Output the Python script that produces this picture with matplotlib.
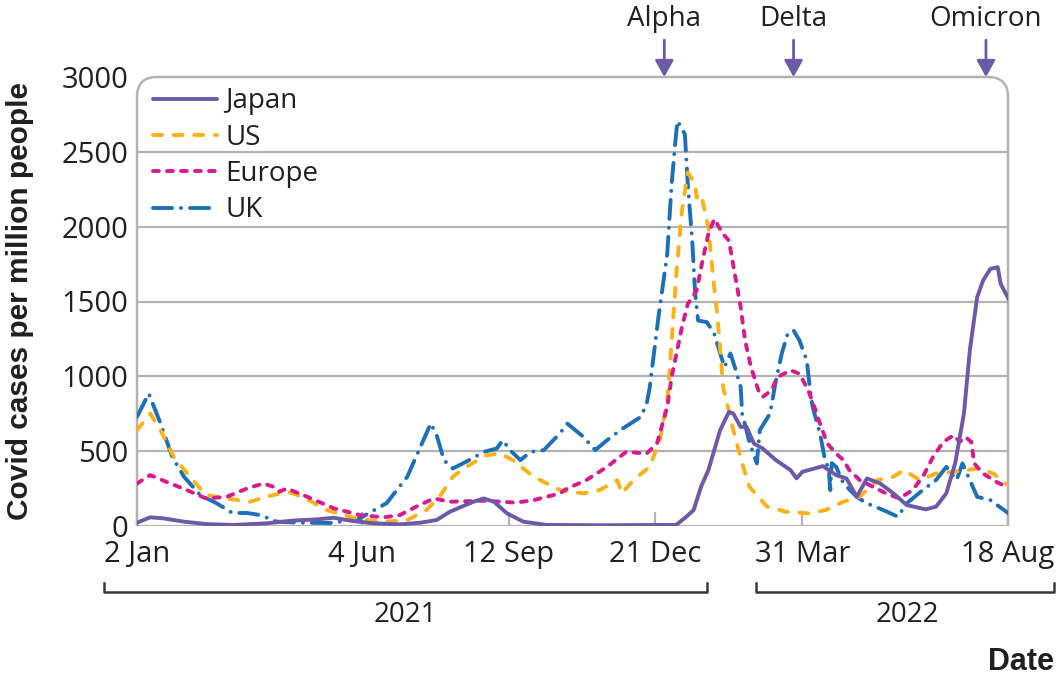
import numpy as np
import matplotlib
matplotlib.use("Agg")
import matplotlib.pyplot as plt
from matplotlib.path import Path
from matplotlib.patches import PathPatch

# Daily cases per million people, days counted from 2 Jan 2021
START = np.datetime64("2021-01-02")

uk_days = [0, 8, 16, 24, 32, 43, 54, 65, 75, 84, 95, 111, 133, 152, 170, 184, 193, 200,
           204, 209, 215, 224, 236, 245, 249, 254, 261, 268, 277, 288, 293, 304, 312, 320,
           329, 343, 347, 349, 355, 361, 364, 367, 368, 373, 375, 378, 380, 382, 388, 393,
           397, 400, 404, 407, 411, 412, 417, 422, 424, 431, 435, 439, 443, 447, 451, 456,
           458, 460, 465, 468, 471, 472, 473, 476, 481, 490, 497, 508, 518, 524, 535, 544,
           551, 558, 562, 567, 572, 581, 593]
uk_vals = [730, 885, 686, 462, 329, 207, 153, 87, 87, 73, 29, 22, 20, 53, 153, 329, 529, 686,
           607, 440, 384, 429, 495, 518, 573, 507, 440, 495, 507, 620, 684, 595, 507, 573,
           640, 729, 818, 920, 1395, 1818, 2285, 2618, 2707, 2618, 2285, 1907, 1553, 1373, 1362, 1285,
           1153, 1062, 1153, 1062, 929, 751, 560, 418, 640, 751, 973, 1153, 1285, 1307, 1240, 1107,
           929, 795, 618, 462, 373, 240, 420, 395, 284, 195, 151, 107, 62, 151, 240, 307,
           395, 307, 418, 307, 195, 173, 87]

us_days = [0, 9, 16, 25, 36, 47, 61, 77, 88, 102, 113, 129, 145, 156, 170, 184, 197, 206,
           215, 224, 238, 247, 256, 270, 288, 304, 315, 327, 330, 338, 349, 356, 361, 362,
           367, 371, 375, 380, 381, 384, 385, 389, 392, 395, 398, 399, 406, 412, 417, 429,
           442, 458, 469, 481, 492, 504, 515, 522, 533, 544, 556, 572, 583, 593]
us_vals = [640, 751, 640, 462, 329, 207, 184, 162, 195, 229, 195, 107, 62, 40, 29, 40, 107, 195,
           329, 395, 473, 484, 440, 329, 240, 218, 240, 307, 218, 307, 395, 573, 840, 951,
           1662, 2107, 2362, 2285, 2195, 2218, 2173, 1995, 1684, 1418, 1062, 929, 640, 418, 262, 129,
           95, 84, 107, 162, 195, 307, 329, 373, 307, 351, 362, 384, 351, 273]

eu_days = [0, 9, 20, 34, 47, 61, 75, 86, 93, 97, 102, 116, 134, 152, 168, 179, 190, 202,
           213, 236, 258, 270, 288, 293, 306, 320, 333, 347, 354, 361, 364, 371, 375, 381,
           385, 389, 393, 399, 403, 407, 411, 414, 418, 423, 426, 432, 436, 445, 451, 457,
           462, 465, 470, 476, 481, 485, 492, 501, 510, 519, 528, 535, 542, 549, 556, 560,
           564, 568, 570, 576, 585, 592]
eu_vals = [284, 340, 295, 240, 184, 195, 251, 284, 262, 229, 251, 195, 118, 73, 58, 73, 129, 184,
           162, 169, 156, 173, 218, 251, 307, 395, 495, 484, 551, 795, 995, 1329, 1484, 1573,
           1773, 1951, 2051, 1951, 1907, 1684, 1462, 1240, 1062, 907, 862, 907, 995, 1040, 1018, 907,
           773, 684, 551, 484, 440, 373, 307, 262, 218, 184, 240, 329, 462, 562, 607, 562,
           595, 562, 418, 351, 295, 262]

jp_days = [0, 9, 18, 32, 47, 66, 88, 106, 122, 134, 147, 161, 179, 193, 204, 213, 222, 229,
           236, 243, 252, 263, 279, 315, 367, 374, 379, 384, 389, 397, 403, 406, 411, 415,
           420, 426, 435, 445, 449, 453, 467, 476, 483, 490, 497, 506, 515, 524, 537, 544,
           551, 557, 563, 567, 572, 576, 581, 586, 588, 591, 594]
jp_vals = [22, 58, 51, 29, 13, 7, 18, 36, 44, 55, 33, 18, 11, 22, 40, 95, 133, 162,
           184, 162, 84, 29, 7, 5, 7, 62, 107, 262, 373, 640, 762, 751, 662, 662,
           551, 518, 440, 373, 318, 362, 400, 340, 318, 195, 318, 284, 218, 140, 111, 129,
           218, 418, 751, 1173, 1529, 1640, 1718, 1729, 1618, 1562, 1507]

tick_dates = ["2021-01-02", "2021-06-04", "2021-09-12", "2021-12-21", "2022-03-31", "2022-08-18"]
tick_labels = ["2 Jan", "4 Jun", "12 Sep", "21 Dec", "31 Mar", "18 Aug"]
y_ticks = [0, 500, 1000, 1500, 2000, 2500, 3000]

variant_names = ["Alpha", "Delta", "Omicron"]
variant_days = [359, 447, 578]

TEXT = "#231f20"
GRID = "#b3b3b3"
PURPLE = "#6e59a8"
LW = 2.8

SERIES = [
    ("UK", uk_days, uk_vals, "#1b70b9", (4.9, 2.3, 0.01, 2.3)),
    ("US", us_days, us_vals, "#fbb118", (2.3, 3.0)),
    ("Europe", eu_days, eu_vals, "#d81a8e", (1.5, 2.1)),
    ("Japan", jp_days, jp_vals, PURPLE, None),
]


def to_dates(days):
    return START + np.array(days).astype("timedelta64[D]")


plt.rcParams["font.family"] = ["Open Sans", "DejaVu Sans"]

W, H = 1058, 682
fig = plt.figure(figsize=(W / 100, H / 100), dpi=100)
left, right, top, bottom = 137, 1008, 77, 526
ax = fig.add_axes([left / W, 1 - bottom / H, (right - left) / W, (bottom - top) / H])

handles = {}
for name, d, v, color, dash in SERIES:
    if dash is None:
        ln, = ax.plot(to_dates(d), v, color=color, lw=LW, solid_joinstyle="round",
                      solid_capstyle="round", zorder=5)
    else:
        ln, = ax.plot(to_dates(d), v, color=color, lw=LW, dashes=dash,
                      dash_capstyle="round", dash_joinstyle="round", zorder=4)
    handles[name] = ln

ax.set_xlim(START, START + np.timedelta64(593, "D"))
ax.set_ylim(0, 3000)

# gridlines (the top one is replaced by the rounded frame)
for yv in y_ticks[:-1]:
    ax.axhline(yv, color=GRID, lw=1.6, zorder=1)

for s in ax.spines.values():
    s.set_visible(False)

# rounded-top frame
rx, ry = 20 / (right - left), 20 / (bottom - top)
verts = [(0, 0), (0, 1 - ry), (0, 1), (rx, 1), (1 - rx, 1), (1, 1), (1, 1 - ry), (1, 0)]
codes = [Path.MOVETO, Path.LINETO, Path.CURVE3, Path.CURVE3, Path.LINETO,
         Path.CURVE3, Path.CURVE3, Path.LINETO]
frame = PathPatch(Path(verts, codes), transform=ax.transAxes, fill=False,
                  edgecolor=GRID, lw=1.8, clip_on=False, zorder=2)
ax.add_patch(frame)

ax.set_yticks(y_ticks)
ax.tick_params(axis="y", length=0, pad=6, labelsize=21, labelcolor=TEXT)
ax.set_xticks([np.datetime64(t) for t in tick_dates])
ax.set_xticklabels(tick_labels)
ax.tick_params(axis="x", direction="in", length=10, width=1.6, color=GRID,
               pad=10, labelsize=21, labelcolor=TEXT)

ax.set_ylabel("Covid cases per million people", fontsize=21.5, fontweight="bold",
              color=TEXT, family=["Liberation Sans", "DejaVu Sans"])
ax.yaxis.set_label_coords(-103 / (right - left), 0.5)

leg = ax.legend([handles[n] for n in ["Japan", "US", "Europe", "UK"]],
                ["Japan", "US", "Europe", "UK"],
                loc="upper left", bbox_to_anchor=(16 / (right - left), 0.977),
                frameon=False, fontsize=20, handlelength=2.3, handletextpad=0.3,
                labelspacing=0.3, borderpad=0, borderaxespad=0)
for t in leg.get_texts():
    t.set_color(TEXT)

# variant arrows
for name, d in zip(variant_names, variant_days):
    x = START + np.timedelta64(d, "D")
    ax.annotate("", xy=(x, 1.0), xycoords=("data", "axes fraction"),
                xytext=(x, 1.082), textcoords=("data", "axes fraction"),
                arrowprops=dict(arrowstyle="-|>,head_length=0.5,head_width=0.28",
                                color=PURPLE, lw=2, shrinkA=0, shrinkB=0,
                                mutation_scale=20))
    ax.text(x, 1.13, name, transform=ax.get_xaxis_transform(), ha="center",
            va="center", fontsize=20, color=TEXT)

# year brackets
def bracket(x0, x1, label, lx):
    yb, yt = 1 - 592 / H, 1 - 583 / H
    fig.add_artist(plt.Line2D([x0 / W, x0 / W, x1 / W, x1 / W], [yt, yb, yb, yt],
                              color="#3a3a3a", lw=1.8))
    fig.text(lx / W, 1 - 615 / H, label, ha="center", va="center", fontsize=20, color=TEXT)

bracket(104, 707, "2021", 405)
bracket(756, 1054, "2022", 907)

fig.text(1054 / W, 1 - 662 / H, "Date", ha="right", va="center", fontsize=22,
         fontweight="bold", color=TEXT, family=["Liberation Sans", "DejaVu Sans"])

fig.savefig("out.png", dpi=100, facecolor="white")
